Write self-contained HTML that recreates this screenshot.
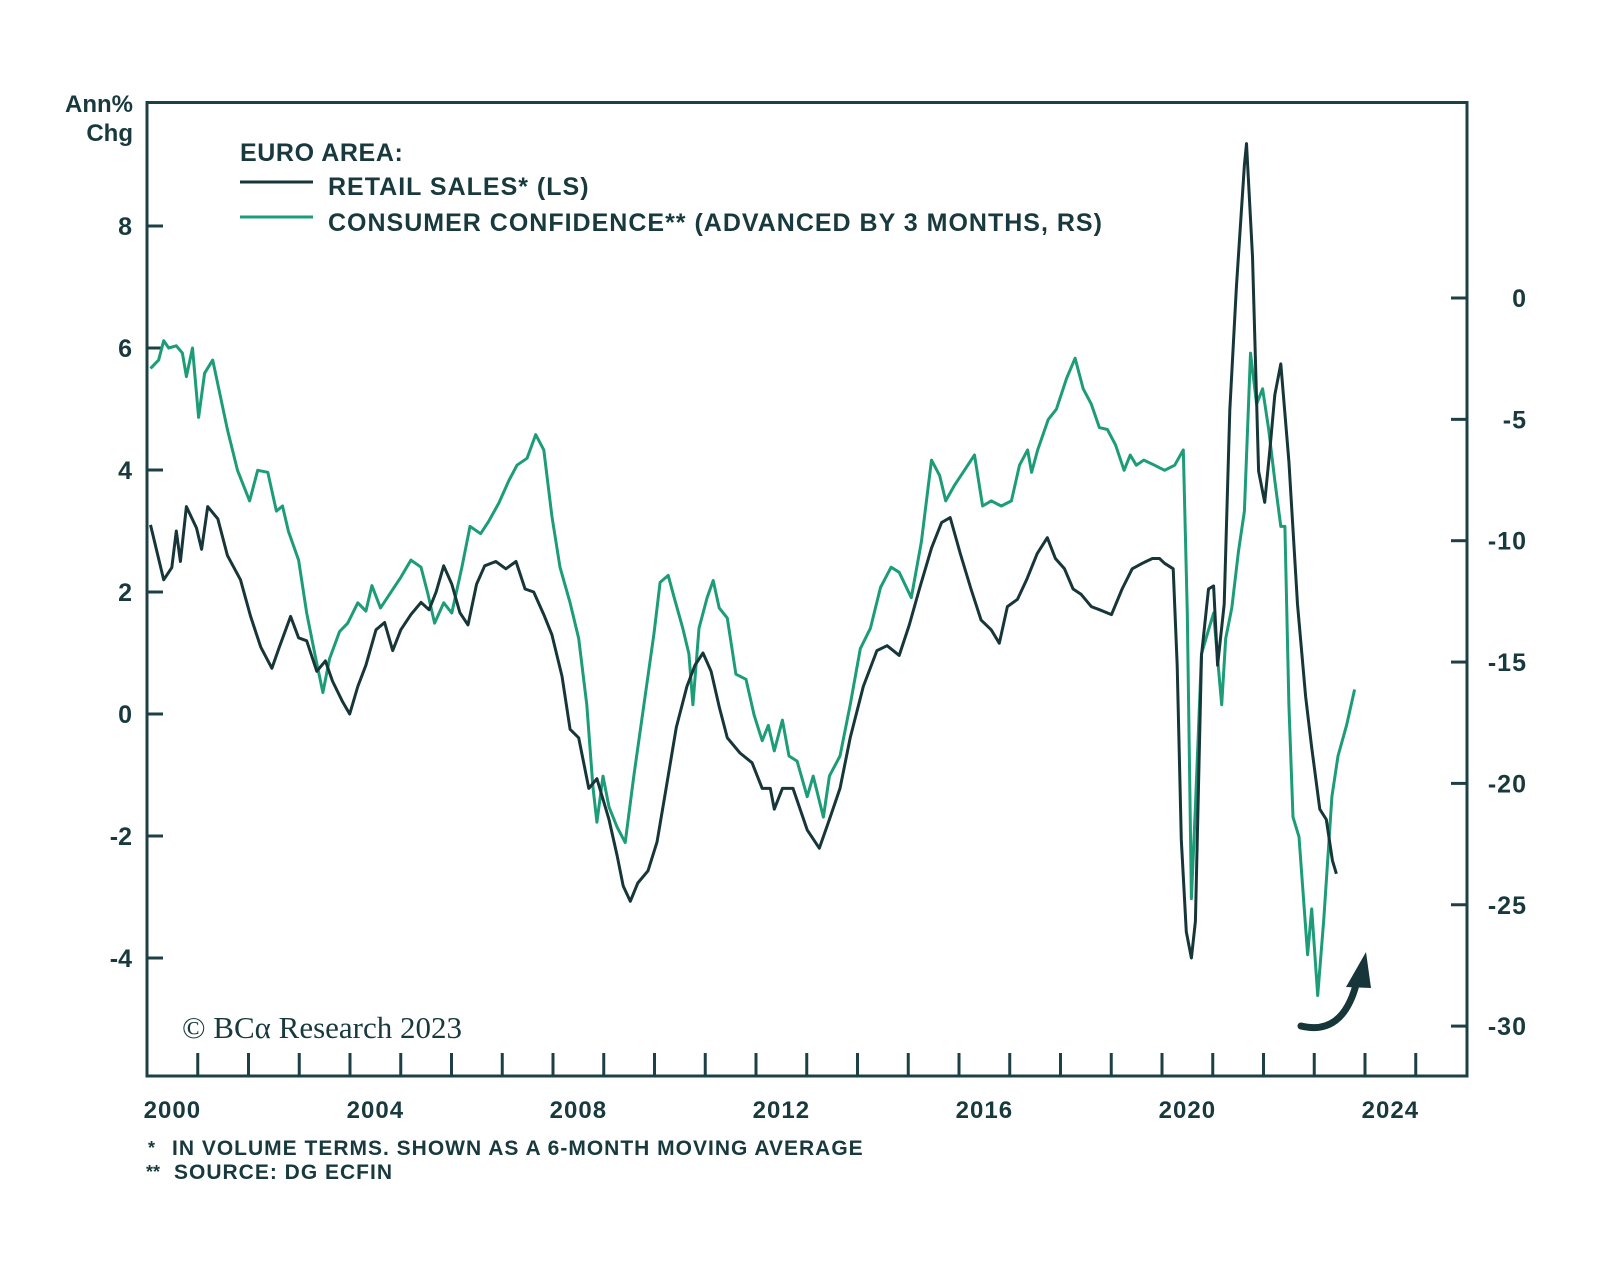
<!DOCTYPE html>
<html><head><meta charset="utf-8">
<style>
html,body{margin:0;padding:0;background:#fff;}
svg{display:block;}
text{font-family:"Liberation Sans",sans-serif;font-weight:bold;fill:#183a3e;}
</style></head>
<body>
<svg id="chart" width="1600" height="1261" viewBox="0 0 1600 1261">
  <g id="axes"></g>
  <g id="series"></g>
  <text x="133" y="112" text-anchor="end" font-size="24">Ann%</text>
  <text x="133" y="141" text-anchor="end" font-size="24">Chg</text>
  <g>
    <text x="240" y="161" font-size="25" letter-spacing="0.6">EURO AREA:</text>
    <line x1="240" y1="182" x2="313" y2="182" stroke="#17363a" stroke-width="3"/>
    <text x="328" y="195" font-size="25" letter-spacing="1">RETAIL SALES* (LS)</text>
    <line x1="240" y1="217" x2="313" y2="217" stroke="#1d9c78" stroke-width="3"/>
    <text x="328" y="231" font-size="25" letter-spacing="1">CONSUMER CONFIDENCE** (ADVANCED BY 3 MONTHS, RS)</text>
  </g>
  <text x="182" y="1038" font-size="31" style="font-family:'Liberation Serif',serif;font-weight:normal">© BCα Research 2023</text>
  <g>
    <path d="M1301,1026 Q1342,1036 1356,985" fill="none" stroke="#17363a" stroke-width="7" stroke-linecap="round"/>
    <polygon points="1366,952 1346,987 1371,988" fill="#17363a"/>
  </g>
  <text x="148" y="1154" font-size="18">*</text>
  <text x="172" y="1155" font-size="21" letter-spacing="1">IN VOLUME TERMS. SHOWN AS A 6-MONTH MOVING AVERAGE</text>
  <text x="146" y="1178" font-size="18">**</text>
  <text x="174" y="1179" font-size="21" letter-spacing="1">SOURCE: DG ECFIN</text>
</svg>
<script>
const leftTicks=[-4,-2,0,2,4,6,8];
const rightTicks=[-30,-25,-20,-15,-10,-5,0];
const yearLabels=[2000,2004,2008,2012,2016,2020,2024];
const retailDates=[2000.07,2000.33,2000.49,2000.58,2000.66,2000.78,2000.98,2001.08,2001.20,2001.40,2001.59,2001.85,2002.05,2002.25,2002.47,2002.62,2002.84,2003.0,2003.16,2003.36,2003.53,2003.67,2003.87,2004.01,2004.17,2004.33,2004.53,2004.70,2004.86,2005.02,2005.22,2005.42,2005.58,2005.72,2005.87,2006.03,2006.19,2006.35,2006.52,2006.68,2006.90,2007.10,2007.30,2007.48,2007.65,2007.85,2008.01,2008.21,2008.37,2008.54,2008.74,2008.90,2009.14,2009.30,2009.42,2009.56,2009.71,2009.91,2010.09,2010.27,2010.47,2010.68,2010.84,2011.0,2011.16,2011.32,2011.48,2011.73,2011.97,2012.17,2012.33,2012.41,2012.57,2012.78,2013.06,2013.30,2013.50,2013.71,2013.91,2014.17,2014.44,2014.64,2014.88,2015.08,2015.28,2015.52,2015.72,2015.89,2016.09,2016.30,2016.50,2016.70,2016.86,2017.02,2017.22,2017.40,2017.61,2017.81,2017.97,2018.15,2018.32,2018.48,2018.68,2018.84,2019.08,2019.29,2019.49,2019.69,2019.89,2020.03,2020.13,2020.30,2020.38,2020.46,2020.56,2020.66,2020.74,2020.86,2021.0,2021.1,2021.18,2021.31,2021.42,2021.55,2021.71,2021.75,2021.87,2021.99,2022.11,2022.21,2022.31,2022.43,2022.59,2022.76,2022.92,2023.04,2023.2,2023.33,2023.45,2023.53];
const retailValues=[3.1,2.2,2.4,3.0,2.5,3.4,3.05,2.7,3.4,3.2,2.6,2.2,1.6,1.1,0.75,1.1,1.6,1.25,1.2,0.7,0.87,0.54,0.2,0,0.45,0.8,1.38,1.5,1.04,1.38,1.63,1.83,1.71,2.0,2.43,2.13,1.66,1.46,2.13,2.43,2.5,2.38,2.5,2.05,2.0,1.63,1.3,0.62,-0.25,-0.39,-1.22,-1.06,-1.73,-2.32,-2.82,-3.07,-2.77,-2.57,-2.1,-1.22,-0.22,0.45,0.8,1.0,0.7,0.12,-0.39,-0.64,-0.8,-1.22,-1.22,-1.56,-1.22,-1.22,-1.9,-2.2,-1.73,-1.22,-0.39,0.45,1.04,1.12,0.96,1.46,2.05,2.72,3.14,3.22,2.63,2.05,1.54,1.38,1.16,1.76,1.88,2.2,2.63,2.89,2.55,2.38,2.05,1.96,1.76,1.71,1.63,2.05,2.38,2.47,2.55,2.55,2.47,2.38,0.79,-2.06,-3.57,-4.0,-3.4,0.96,2.05,2.1,0.8,1.8,4.98,7.0,9.0,9.35,7.5,3.98,3.47,4.3,5.23,5.74,4.14,1.8,0.29,-0.55,-1.56,-1.73,-2.4,-2.62];
const confDates=[2000.07,2000.23,2000.33,2000.43,2000.58,2000.70,2000.78,2000.90,2001.02,2001.14,2001.30,2001.42,2001.59,2001.79,2002.03,2002.19,2002.39,2002.56,2002.68,2002.80,2003.0,2003.16,2003.32,2003.48,2003.61,2003.81,2003.97,2004.17,2004.33,2004.45,2004.62,2004.82,2005.02,2005.22,2005.42,2005.55,2005.69,2005.87,2006.03,2006.23,2006.39,2006.60,2006.76,2006.96,2007.16,2007.32,2007.52,2007.69,2007.85,2008.01,2008.17,2008.37,2008.54,2008.70,2008.82,2008.90,2009.02,2009.14,2009.30,2009.46,2009.63,2009.83,2010.03,2010.15,2010.31,2010.43,2010.60,2010.72,2010.80,2010.92,2011.08,2011.20,2011.32,2011.48,2011.65,2011.85,2012.01,2012.17,2012.29,2012.41,2012.57,2012.70,2012.86,2013.06,2013.18,2013.38,2013.50,2013.71,2013.91,2014.11,2014.31,2014.51,2014.72,2014.88,2015.12,2015.32,2015.52,2015.68,2015.80,2015.97,2016.17,2016.37,2016.53,2016.70,2016.90,2017.10,2017.26,2017.42,2017.50,2017.62,2017.83,2017.99,2018.19,2018.36,2018.52,2018.68,2018.84,2019.0,2019.16,2019.33,2019.45,2019.57,2019.72,2019.93,2020.13,2020.33,2020.50,2020.58,2020.66,2020.74,2020.86,2020.98,2021.10,2021.18,2021.26,2021.34,2021.46,2021.59,2021.71,2021.83,2021.95,2022.07,2022.19,2022.31,2022.43,2022.51,2022.59,2022.67,2022.79,2022.96,2023.04,2023.16,2023.28,2023.44,2023.56,2023.73,2023.89];
const confValues=[-2.9,-2.56,-1.76,-2.06,-1.97,-2.27,-3.24,-2.06,-4.92,-3.1,-2.56,-3.74,-5.42,-7.1,-8.36,-7.1,-7.18,-8.78,-8.57,-9.62,-10.8,-12.98,-14.66,-16.26,-14.87,-13.74,-13.4,-12.56,-12.9,-11.85,-12.77,-12.14,-11.51,-10.8,-11.09,-12.14,-13.4,-12.56,-12.98,-11.09,-9.41,-9.71,-9.2,-8.45,-7.52,-6.89,-6.6,-5.63,-6.26,-8.99,-11.09,-12.56,-14.03,-16.76,-20.13,-21.6,-19.7,-20.97,-21.8,-22.44,-19.7,-16.76,-13.82,-11.72,-11.43,-12.35,-13.61,-14.66,-16.76,-13.61,-12.35,-11.64,-12.77,-13.19,-15.5,-15.71,-17.18,-18.24,-17.61,-18.66,-17.39,-18.87,-19.08,-20.55,-19.7,-21.39,-19.7,-18.87,-16.76,-14.45,-13.61,-11.93,-11.09,-11.3,-12.35,-10.04,-6.68,-7.31,-8.36,-7.73,-7.1,-6.47,-8.57,-8.36,-8.57,-8.36,-6.89,-6.26,-7.18,-6.26,-5.0,-4.58,-3.32,-2.48,-3.74,-4.37,-5.34,-5.42,-6.05,-7.1,-6.47,-6.89,-6.68,-6.89,-7.1,-6.89,-6.26,-12.98,-24.75,-20.97,-14.66,-13.82,-12.98,-14.87,-16.76,-14.03,-12.77,-10.46,-8.78,-2.27,-4.37,-3.74,-5.42,-7.52,-9.41,-9.41,-16.76,-21.39,-22.2,-27.06,-25.17,-28.74,-25.59,-20.55,-18.87,-17.6,-16.13];

const L=147,R=1467,T=102.5,B=1076;
const xS=y=>L+(y-2000)*50.75;
const xD=y=>L+(y-2000)*50.55;
const yL=v=>714-v*61;
const yR=v=>298-v*24.27;
const NS='http://www.w3.org/2000/svg';
const axes=document.getElementById('axes'),series=document.getElementById('series');
function mk(tag,attrs,parent){const e=document.createElementNS(NS,tag);for(const k in attrs)e.setAttribute(k,attrs[k]);parent.appendChild(e);return e;}
const AX='#1d4046';
const frame=mk('rect',{x:L,y:T,width:R-L,height:B-T,fill:'none',stroke:AX,'stroke-width':3},axes);


leftTicks.forEach(v=>{
  const t=mk('line',{x1:L,x2:L+16,y1:yL(v),y2:yL(v),stroke:AX,'stroke-width':3},axes);
  
  
  const s=mk('text',{x:132,y:yL(v)+9,'text-anchor':'end','font-size':25},axes);
  s.textContent=v;
  
  
});
rightTicks.forEach(v=>{
  const t=mk('line',{x1:R-16,x2:R,y1:yR(v),y2:yR(v),stroke:AX,'stroke-width':3},axes);
  
  
  const s=mk('text',{x:1527,y:yR(v)+9,'text-anchor':'end','font-size':25,'letter-spacing':'1'},axes);
  s.textContent=v;
  
  
});
for(let yr=2001;yr<=2025;yr++){
  const t=mk('line',{x1:xS(yr),x2:xS(yr),y1:B,y2:B-23,stroke:AX,'stroke-width':3},axes);
  
  
}
yearLabels.forEach(yr=>{
  const s=mk('text',{x:xS(yr+0.5),y:1118,'text-anchor':'middle','font-size':24,'letter-spacing':'1'},axes);
  s.textContent=yr;
  
  
});
const pc=confDates.map((d,i)=>xD(d).toFixed(1)+','+yR(confValues[i]).toFixed(1)).join(' ');
const lc=mk('polyline',{points:pc,fill:'none',stroke:'#1d9c78','stroke-width':3,'stroke-linejoin':'round'},series);


const pr=retailDates.map((d,i)=>xD(d).toFixed(1)+','+yL(retailValues[i]).toFixed(1)).join(' ');
const lr=mk('polyline',{points:pr,fill:'none',stroke:'#17363a','stroke-width':3,'stroke-linejoin':'round'},series);


</script>
</body></html>
